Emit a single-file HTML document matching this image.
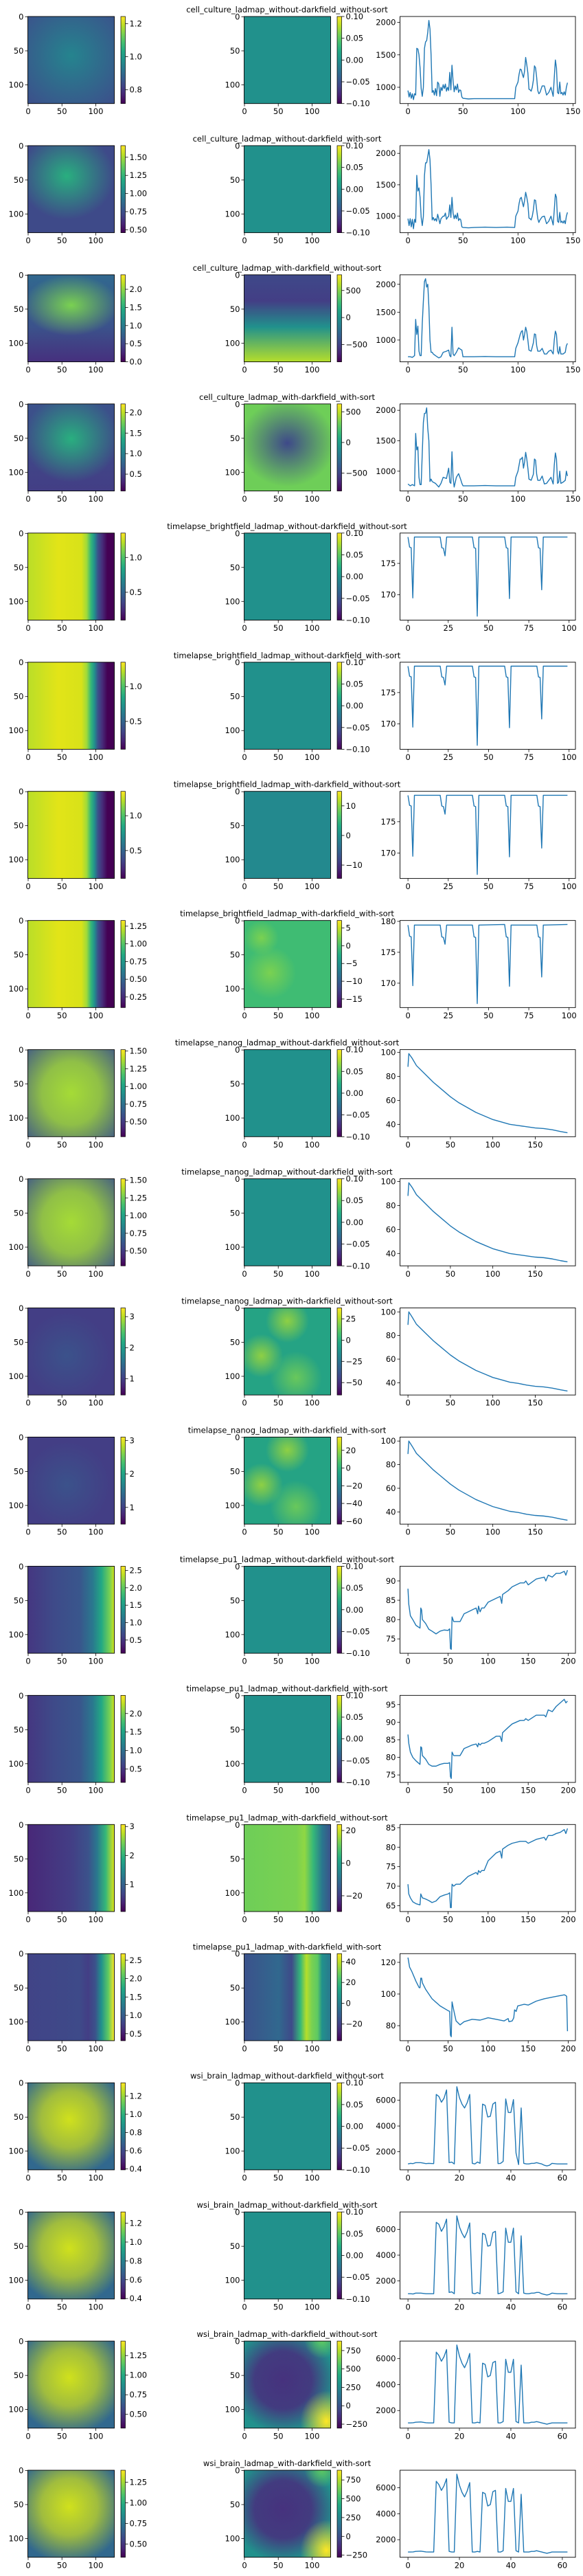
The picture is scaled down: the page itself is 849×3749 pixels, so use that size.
<!DOCTYPE html>
<html><head><meta charset="utf-8"><title>BaSiC ladmap comparison</title>
<style>
html,body{margin:0;padding:0;background:#fff;}
svg{display:block;font-family:"DejaVu Sans","Liberation Sans",sans-serif;}
</style></head>
<body>
<svg id="fig" width="849" height="3749" viewBox="0 0 849 3749" xmlns="http://www.w3.org/2000/svg">
<defs>
<linearGradient id="viridisV" x1="0" y1="1" x2="0" y2="0">
<stop offset="0" stop-color="#440154"/><stop offset="0.1" stop-color="#482475"/><stop offset="0.2" stop-color="#414487"/><stop offset="0.3" stop-color="#355f8d"/><stop offset="0.4" stop-color="#2a788e"/><stop offset="0.5" stop-color="#21918c"/><stop offset="0.6" stop-color="#22a884"/><stop offset="0.7" stop-color="#44bf70"/><stop offset="0.8" stop-color="#7ad151"/><stop offset="0.9" stop-color="#bddf26"/><stop offset="1" stop-color="#fde725"/>
</linearGradient>
</defs>
</svg>
<script>
// ---------- titles ----------
const rowTitles = [
"cell_culture_ladmap_without-darkfield_without-sort","cell_culture_ladmap_without-darkfield_with-sort","cell_culture_ladmap_with-darkfield_without-sort","cell_culture_ladmap_with-darkfield_with-sort",
"timelapse_brightfield_ladmap_without-darkfield_without-sort","timelapse_brightfield_ladmap_without-darkfield_with-sort","timelapse_brightfield_ladmap_with-darkfield_without-sort","timelapse_brightfield_ladmap_with-darkfield_with-sort",
"timelapse_nanog_ladmap_without-darkfield_without-sort","timelapse_nanog_ladmap_without-darkfield_with-sort","timelapse_nanog_ladmap_with-darkfield_without-sort","timelapse_nanog_ladmap_with-darkfield_with-sort",
"timelapse_pu1_ladmap_without-darkfield_without-sort","timelapse_pu1_ladmap_without-darkfield_with-sort","timelapse_pu1_ladmap_with-darkfield_without-sort","timelapse_pu1_ladmap_with-darkfield_with-sort",
"wsi_brain_ladmap_without-darkfield_without-sort","wsi_brain_ladmap_without-darkfield_with-sort","wsi_brain_ladmap_with-darkfield_without-sort","wsi_brain_ladmap_with-darkfield_with-sort"];

// ---------- colorbar ranges & ticks ----------
const flatRange = [-0.1, 0.1];
const flatTicks = [-0.10,-0.05,0.00,0.05,0.10];
const cbRangeA = [[0.717,1.243],[0.46,1.66],[0,2.40],[0.09,2.21],[0.1,1.35],[0.1,1.35],[0.1,1.35],[0.10,1.33],[0.29,1.52],[0.29,1.52],[0.48,3.28],[0.5,3.1],[0.12,2.62],[0.14,2.49],[0.06,3.07],[0.31,2.68],[0.389,1.346],[0.395,1.32],[0.324,1.435],[0.34,1.396]];
const cbTicksA = [[0.8,1.0,1.2],[0.5,0.75,1.0,1.25,1.5],[0,0.5,1,1.5,2],[0.5,1,1.5,2],[0.5,1.0],[0.5,1.0],[0.5,1.0],[0.25,0.5,0.75,1.0,1.25],[0.5,0.75,1.0,1.25,1.5],[0.5,0.75,1.0,1.25,1.5],[1,2,3],[1,2,3],[0.5,1,1.5,2,2.5],[0.5,1,1.5,2],[1,2,3],[0.5,1,1.5,2,2.5],[0.4,0.6,0.8,1.0,1.2],[0.4,0.6,0.8,1.0,1.2],[0.5,0.75,1.0,1.25],[0.5,0.75,1.0,1.25]];
const cbDecA = [1,2,1,1,1,1,1,2,2,2,0,0,1,1,0,1,1,1,2,2];
const cbRangeB = [null,null,[-818,790],[-790,628],null,null,[-14.5,14.9],[-17.4,7.1],null,null,[-64.6,38],[-63.4,35],null,null,[-29.7,23.7],[-36,47.7],null,null,[-304,879],[-278,879]];
const cbTicksB = [null,null,[-500,0,500],[-500,0,500],null,null,[-10,0,10],[-15,-10,-5,0,5],null,null,[-50,-25,0,25],[-60,-40,-20,0,20],null,null,[-20,0,20],[-20,0,20,40],null,null,[-250,0,250,500,750],[-250,0,250,500,750]];

// ---------- line-plot data ----------
const ccX1 = [0,1,2,3,4,5,6,7,8,9,10,11,12,13,14,15,16,17,18,19,20,21,22,23,24,25,26,27,28,29,30,31,32,33,34,35,36,37,38,39,40,41,42,43,44,45,46,47,48,49,50,55,60,70,80,90,97,98,100,101,102,103,104,105,106,107,108,109,110,111,112,113,114,115,116,117,118,119,120,122,124,126,128,130,132,133,134,135,136,137,138,139,140,141,142,143,144,145];
const ccY1 = [950,850,920,830,900,810,900,880,1600,1590,1500,1300,980,860,1000,1600,1700,1720,1850,2030,1900,1500,920,950,880,980,870,1080,1050,860,1000,950,1040,980,1050,940,1000,950,1230,960,1340,1100,930,1020,960,1050,920,960,950,850,830,820,825,825,825,825,825,1000,1080,1200,1280,1270,1200,1150,1250,1460,1350,1220,970,960,940,1000,1110,1330,1300,1150,950,900,920,1020,1020,880,920,1000,860,1150,1420,1300,920,900,1080,900,920,880,930,880,1000,1070];
const ccY2 = [960,850,960,830,950,800,950,900,1650,1400,1450,1300,980,850,1000,1650,1850,1850,1950,2060,1900,1500,940,980,930,960,920,1030,960,880,960,980,1000,1000,1050,950,980,1000,1180,980,1300,1050,960,1020,960,1050,930,960,940,830,820,815,820,825,820,825,820,1000,1080,1200,1280,1300,1220,1150,1250,1380,1300,1200,970,960,940,1000,1100,1260,1250,1100,960,900,940,990,1000,880,920,1000,860,1100,1350,1300,920,900,1060,900,920,890,930,880,1000,1060];
const ccX3 = [0,2,4,6,7,8,9,10,11,12,13,14,15,16,17,18,19,20,21,22,23,25,28,30,32,35,37,38,39,40,41,42,44,46,48,49,50,60,70,80,90,97,98,100,102,103,104,105,106,107,108,109,110,112,114,115,116,117,118,120,122,124,126,128,130,132,133,134,135,136,137,138,139,141,143,144,145];
const ccY3 = [700,700,690,720,1370,1100,1250,800,720,720,1300,1700,2050,2100,1950,2000,1600,1000,780,780,750,720,680,700,780,800,820,720,700,1230,750,720,780,860,830,820,700,700,705,700,700,700,850,950,1100,1150,1170,1000,1100,1230,1150,1000,820,800,950,1110,1100,900,800,800,850,750,750,800,820,750,1000,1160,1100,800,750,880,750,750,780,900,940];
const ccY4 = [790,760,780,760,1620,1350,1400,900,780,780,1300,1800,1950,1950,2040,1700,1500,830,870,830,820,800,740,800,900,880,1050,820,800,1320,900,740,900,960,860,800,760,760,765,760,760,760,900,1000,1200,1200,1230,1050,1150,1310,1200,1050,870,850,950,1200,1180,950,850,850,920,790,800,850,900,790,1100,1300,1200,800,820,1000,800,820,850,1000,920];

const bfX = [0,1,2,3,4,20,21,22,23,24,40,41,42,43,44,60,61,62,63,64,80,81,82,83,84,99];
const bfY = [179.2,177.6,177.5,169.5,179.2,179.2,177.5,177.4,176.2,179.2,179.2,177.5,177.4,166.6,179.2,179.2,177.5,177.4,169.4,179.2,179.2,177.5,177.4,170.8,179.2,179.2];
const bfY8 = [179.4,177.6,177.5,169.6,179.4,179.4,177.5,177.4,176.3,179.4,179.4,177.5,177.4,166.7,179.4,179.5,177.5,177.4,169.5,179.4,179.4,177.5,177.4,171.0,179.4,179.5];

const ngX = [0,1,5,10,20,30,40,50,60,70,80,90,100,110,120,130,140,150,160,170,180,188];
const ngY = [88,99,95,89,82,75,69,63,58,54,50,47,44,42,40,39,38,37,36.5,35.5,34,33];
const ngY2 = [89,100,95.5,89.5,82.5,75.5,69.5,63.5,58.5,54.5,50.5,47.5,44.5,42.5,40.5,39.5,38,37,36.5,35.5,34,33];

const puX1 = [0,1,3,6,10,15,16,17,18,22,26,30,35,40,45,50,52,53,54,55,57,60,65,70,75,80,85,87,88,90,92,95,100,110,115,117,118,125,130,140,145,147,150,160,170,172,175,180,185,190,195,197,199];
const puY1 = [88,84,81,80,78.5,77.8,83,82.5,80,79,77.5,77,76.3,77,77.3,77.2,77.6,72.5,72.3,80.7,79.5,79.5,79.5,81.5,82,82.5,83,81.5,83.5,82,83,83,84.5,85.5,86,84.2,86.5,87.5,88.5,89.5,89.5,90,89,90.5,91,90,91.5,91,92,92,92.5,91.5,92.8];
const puY2 = [86.5,84,81.5,80,79,78,83,82.8,80.5,79.5,78,77.5,77.5,78,78.3,78.3,78.5,74.5,74,81.5,80.5,80.5,80.5,82.5,83,83.5,83.8,83,84,83.5,84,84,84.5,86,86,84.5,87,88.5,89.5,90.5,90.5,91,90.5,92,92,91.5,93.5,93,94.5,95.5,96.5,95.5,96];
const puY3 = [70.5,68,67,66,65.5,65.2,68,67.5,67,66.7,66.3,65.8,66.2,67.3,67.7,68,68.3,64.5,64.5,70.5,70,70.5,70.5,71.5,72.5,73,73.5,73,74,73.5,74,74,76.5,78.5,79,77.2,79.5,80.5,81,81.5,81.5,81.5,81,82,82.5,81.8,83,83,83.5,83.8,84.5,83.5,84.8];
const puX4 = [0,2,5,10,14,15,16,17,18,22,30,40,50,52,53,54,55,57,60,65,70,80,90,100,110,120,125,126,130,132,133,135,137,145,150,160,170,180,190,195,197,198,199];
const puY4 = [123,117,114,108,104,104,110,110,107,103,97,92.5,89.5,89,74,73,95,90,83,80.5,82.5,84,83.5,85,84,83,84.5,82.5,83,85,90,89,92.5,93.5,93,95.5,97,98,99,99.5,99,98.5,76.5];

const wsiX = [0,1,2,3,5,7,8,10,11,12,13,14,15,16,17,18,19,20,21,22,23,24,25,26,27,28,29,30,31,32,33,34,35,36,37,38,39,40,41,42,43,44,45,46,47,48,49,50,51,52,53,54,55,56,58,60,62];
const wsiY1 = [1050,1100,1080,1150,1150,1080,1100,1080,6450,6300,5850,6150,6800,1150,1200,1050,7050,6200,5700,5400,5800,6450,1100,1050,1200,1100,5700,5600,4700,4750,5700,5850,1080,1100,1250,6100,5050,5050,6050,1900,1000,5400,1100,1050,1050,1100,1100,1150,1100,1050,950,900,950,1100,1050,1050,1050];
const wsiY2 = [1000,1000,980,1050,1050,1000,1000,1000,6550,6400,5850,6200,6800,1100,1150,1000,7050,6200,5700,5350,5800,6500,1050,1000,1100,1000,5700,5600,4700,4750,5750,5850,1000,1050,1150,6100,5000,5000,6100,1150,1000,5500,1050,1000,1000,1050,1050,1100,1100,1000,950,900,950,1050,1000,1000,1000];
const wsiY3 = [1050,1050,1060,1100,1120,1060,1050,1050,6500,6250,5800,6150,6700,1100,1050,1050,7050,6200,5650,5300,5750,6400,1050,1050,1100,1050,5650,5550,4600,4700,5700,5800,1050,1050,1150,5950,4950,4950,5950,1150,1050,5500,1050,1050,1050,1100,1100,1150,1100,1050,1000,950,1000,1050,1050,1050,1050];

const lineX = [ccX1,ccX1,ccX3,ccX3,bfX,bfX,bfX,bfX,ngX,ngX,ngX,ngX,puX1,puX1,puX1,puX4,wsiX,wsiX,wsiX,wsiX];
const lineY = [ccY1,ccY2,ccY3,ccY4,bfY,bfY,bfY,bfY8,ngY,ngY,ngY2,ngY2,puY1,puY2,puY3,puY4,wsiY1,wsiY2,wsiY3,wsiY3];
const lineN = [146,146,146,146,100,100,100,100,189,189,189,189,200,200,200,200,63,63,63,63];
const lineXTicks = [[0,50,100,150],[0,50,100,150],[0,50,100,150],[0,50,100,150],[0,25,50,75,100],[0,25,50,75,100],[0,25,50,75,100],[0,25,50,75,100],[0,50,100,150],[0,50,100,150],[0,50,100,150],[0,50,100,150],[0,50,100,150,200],[0,50,100,150,200],[0,50,100,150,200],[0,50,100,150,200],[0,20,40,60],[0,20,40,60],[0,20,40,60],[0,20,40,60]];
const lineYTicks = [[1000,1500,2000],[1000,1500,2000],[1000,1500,2000],[1000,1500,2000],[170,175],[170,175],[170,175],[170,175,180],[40,60,80,100],[40,60,80,100],[40,60,80,100],[40,60,80,100],[75,80,85,90],[75,80,85,90,95],[65,70,75,80,85],[80,100,120],[2000,4000,6000],[2000,4000,6000],[2000,4000,6000],[2000,4000,6000]];

// ---------- heatmap appearance (visual texture, not data) ----------
const heatA = [
 {base:'#3b528b',rad:[[0.5,0.45,0.7,0.7,'#25848e']]},
 {base:'#3e4a89',rad:[[0.45,0.35,0.55,0.5,'#29af7f']]},
 {lin:[[0,'#31688e'],[0.6,'#3b528b'],[1,'#46307e']],rad:[[0.5,0.35,0.55,0.35,'#7ad151']]},
 {lin:[[0,'#3b528b'],[1,'#433e85']],rad:[[0.5,0.4,0.55,0.5,'#29af7f']]},
 {h:[[0,'#bade28'],[0.35,'#e2e418'],[0.62,'#d8e219'],[0.68,'#9fda3a'],[0.73,'#35b779'],[0.77,'#21918c'],[0.81,'#3b528b'],[0.86,'#472d7b'],[0.92,'#440154'],[1,'#440154']]},
 null,null,null,
 {base:'#3b528b',rad:[[0.5,0.5,0.75,0.8,'#a5db36',[[0,1],[0.45,0.8]]]]},
 null,
 {base:'#433e85',rad:[[0.45,0.55,0.5,0.5,'#3b528b']]},
 null,
 {h:[[0,'#453781'],[0.3,'#3e4a89'],[0.6,'#39568c'],[0.75,'#2a788e'],[0.85,'#22a884'],[0.95,'#7ad151'],[1,'#d2e21b']]},
 null,
 {h:[[0,'#482878'],[0.5,'#433e85'],[0.7,'#3b528b'],[0.8,'#2a788e'],[0.9,'#35b779'],[1,'#dde318']]},
 {h:[[0,'#414487'],[0.6,'#3e4a89'],[0.7,'#433e85'],[0.78,'#3b528b'],[0.85,'#21918c'],[0.93,'#5ec962'],[1,'#fde725']]},
 {base:'#31688e',rad:[[0.48,0.42,0.65,0.65,'#d0e11c',[[0,1],[0.5,0.7]]]]},
 null,null,null];
heatA[5]=heatA[4];heatA[6]=heatA[4];heatA[7]=heatA[4];heatA[9]=heatA[8];heatA[11]=heatA[10];heatA[13]=heatA[12];heatA[17]=heatA[16];heatA[18]=heatA[16];heatA[19]=heatA[16];
const flatB = {base:'#21918c'};
const nanogB = {base:'#25a384',rad:[[0.2,0.55,0.25,0.25,'#a8db34',[[0,0.8],[0.4,0.5]]],[0.5,0.15,0.25,0.25,'#a8db34',[[0,0.8],[0.4,0.5]]],[0.6,0.8,0.3,0.3,'#7ad151',[[0,0.8],[0.4,0.5]]]]};
const heatB = [flatB,flatB,
 {lin:[[0,'#3e4989'],[0.3,'#433e85'],[0.6,'#21918c'],[1,'#b5de2b']]},
 {base:'#6ece58',rad:[[0.5,0.45,0.55,0.5,'#3e4989']]},
 flatB,flatB,{base:'#23898e'},
 {base:'#3fbc73',rad:[[0.3,0.6,0.3,0.3,'#7ad151'],[0.2,0.2,0.2,0.2,'#7ad151']]},
 flatB,flatB,
 nanogB,nanogB,
 flatB,flatB,
 {h:[[0,'#6ece58'],[0.6,'#7ad151'],[0.7,'#8fd744'],[0.8,'#35b779'],[0.9,'#2a788e'],[1,'#3b528b']]},
 {h:[[0,'#3b528b'],[0.4,'#31688e'],[0.55,'#3e4a89'],[0.65,'#35b779'],[0.72,'#b5de2b'],[0.78,'#7ad151'],[0.85,'#5ec962'],[0.9,'#21918c'],[1,'#2a788e']]},
 flatB,flatB,
 {base:'#21918c',rad:[[0.45,0.45,0.6,0.6,'#46327e',[[0,1],[0.55,0.9]]],[0.95,0.92,0.3,0.35,'#fde725'],[0.9,0.0,0.2,0.2,'#5ec962']]},
 {base:'#21918c',rad:[[0.45,0.45,0.6,0.6,'#46327e',[[0,1],[0.55,0.9]]],[0.95,0.92,0.3,0.35,'#fde725'],[0.9,0.0,0.2,0.2,'#5ec962']]}];

// ---------- drawing ----------
const NS='http://www.w3.org/2000/svg';
const svg=document.getElementById('fig');
const defs=svg.querySelector('defs');
const ROW0=24, DY=187.95, AH=126.7;
const HA_X=40.5, HB_X=355.5, HW=126, CBA_X=176, CBB_X=491, CBW=6.5, L_X=582.5, LW=255.5;
let gid=0;
function el(tag,attrs,parent){const e=document.createElementNS(NS,tag);for(const k in attrs)e.setAttribute(k,attrs[k]);(parent||svg).appendChild(e);return e;}
function txt(s,x,y,anchor,parent,size){const t=el('text',{x:x,y:y,'text-anchor':anchor||'start','font-size':size||11.5,fill:'#000'},parent);t.textContent=s;return t;}
function fmt(v,d){const s=Math.abs(v).toFixed(d);return (v<0?'\u2212':'')+s;}

function drawHeat(spec,x,y,w,h,parent){
  const cid='c'+(gid++);
  const cp=el('clipPath',{id:cid},defs);
  el('rect',{x:x,y:y,width:w,height:h},cp);
  const g=el('g',{'clip-path':'url(#'+cid+')'},parent);
  if(spec.h||spec.lin){
    const id='g'+(gid++);
    const lg=el('linearGradient',spec.h?{id:id,x1:0,y1:0,x2:1,y2:0}:{id:id,x1:0,y1:0,x2:0,y2:1},defs);
    (spec.h||spec.lin).forEach(s=>el('stop',{offset:s[0],'stop-color':s[1]},lg));
    el('rect',{x:x,y:y,width:w,height:h,fill:'url(#'+id+')'},g);
  } else el('rect',{x:x,y:y,width:w,height:h,fill:spec.base},g);
  (spec.rad||[]).forEach(r=>{
    const id='g'+(gid++);
    const rg=el('radialGradient',{id:id},defs);
    const st=r[5]||[[0,1]];
    st.forEach(s=>el('stop',{offset:s[0],'stop-color':r[4],'stop-opacity':s[1]},rg));
    el('stop',{offset:1,'stop-color':r[4],'stop-opacity':0},rg);
    el('ellipse',{cx:x+r[0]*w,cy:y+r[1]*h,rx:r[2]*w,ry:r[3]*h,fill:'url(#'+id+')'},g);
  });
}
function heatAxes(x,y,w,h,g){
  el('rect',{x:x,y:y,width:w,height:h,fill:'none',stroke:'#000','stroke-width':0.9},g);
  [0,50,100].forEach(v=>{
    const px=x+(v+0.5)/128*w, py=y+(v+0.5)/128*h;
    el('line',{x1:px,y1:y+h,x2:px,y2:y+h+4,stroke:'#000','stroke-width':0.8},g);
    txt(String(v),px,y+h+15.5,'middle',g);
    el('line',{x1:x-4,y1:py,x2:x,y2:py,stroke:'#000','stroke-width':0.8},g);
    txt(String(v),x-6,py+4,'end',g);
  });
}
function colorbar(x,y,w,h,range,ticks,dec,g){
  el('rect',{x:x,y:y,width:w,height:h,fill:'url(#viridisV)',stroke:'#000','stroke-width':0.7},g);
  ticks.forEach(v=>{
    const py=y+h-(v-range[0])/(range[1]-range[0])*h;
    el('line',{x1:x+w,y1:py,x2:x+w+4,y2:py,stroke:'#000','stroke-width':0.8},g);
    txt(fmt(v,dec),x+w+6,py+4,'start',g);
  });
}
function linePlot(i,top,g){
  const xs=lineX[i], ys=lineY[i], n=lineN[i];
  const xmin=-0.05*(n-1), xmax=(n-1)*1.05;
  let ymin=Math.min(...ys), ymax=Math.max(...ys); const r=ymax-ymin; ymin-=0.05*r; ymax+=0.05*r;
  const sx=v=>L_X+(v-xmin)/(xmax-xmin)*LW;
  const sy=v=>top+AH-(v-ymin)/(ymax-ymin)*AH;
  const pts=xs.map((x,k)=>sx(x).toFixed(2)+','+sy(ys[k]).toFixed(2)).join(' ');
  const pl=el('polyline',{points:pts,fill:'none',stroke:'#1f77b4','stroke-width':1.4,'stroke-linejoin':'round'},g);
  
  
  el('rect',{x:L_X,y:top,width:LW,height:AH,fill:'none',stroke:'#000','stroke-width':0.9},g);
  lineXTicks[i].forEach(v=>{const px=sx(v);el('line',{x1:px,y1:top+AH,x2:px,y2:top+AH+4,stroke:'#000','stroke-width':0.8},g);txt(String(v),px,top+AH+15.5,'middle',g);});
  lineYTicks[i].forEach(v=>{const py=sy(v);if(py<top-1||py>top+AH+1)return;el('line',{x1:L_X-4,y1:py,x2:L_X,y2:py,stroke:'#000','stroke-width':0.8},g);txt(String(v),L_X-6,py+4,'end',g);});
}

for(let i=0;i<20;i++){
  const top=ROW0+i*DY;
  const row=el('g',{});
  
  
  const t=txt(rowTitles[i],418,top-6,'middle',row,11.5);
  
  

  const gA=el('g',{},row);
  
  
  drawHeat(heatA[i],HA_X,top,HW,AH,gA);
  heatAxes(HA_X,top,HW,AH,gA);
  const cA=el('g',{},row);
  
  
  colorbar(CBA_X,top,CBW,AH,cbRangeA[i],cbTicksA[i],cbDecA[i],cA);

  const gB=el('g',{},row);
  
  
  drawHeat(heatB[i],HB_X,top,HW,AH,gB);
  heatAxes(HB_X,top,HW,AH,gB);
  const cB=el('g',{},row);
  
  
  if(cbRangeB[i]) colorbar(CBB_X,top,CBW,AH,cbRangeB[i],cbTicksB[i],0,cB);
  else colorbar(CBB_X,top,CBW,AH,flatRange,flatTicks,2,cB);

  const gL=el('g',{},row);
  
  
  linePlot(i,top,gL);
}
</script>
</body></html>
